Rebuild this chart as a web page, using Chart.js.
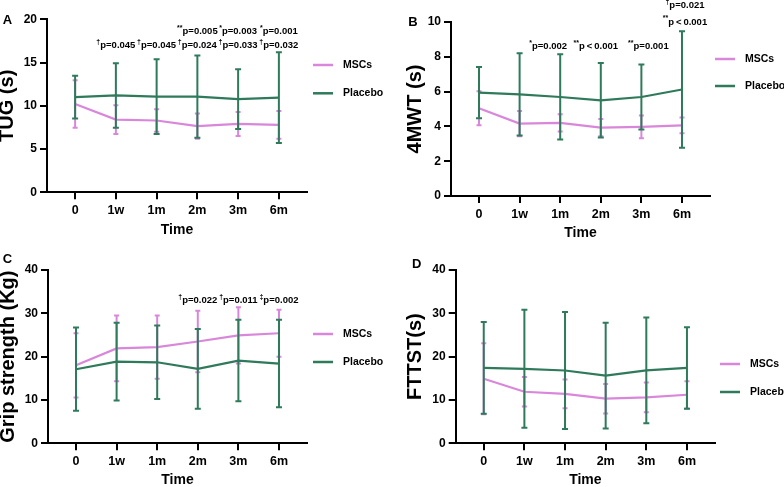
<!DOCTYPE html>
<html>
<head>
<meta charset="utf-8">
<script src="https://cdn.jsdelivr.net/npm/chart.js@4.4.1/dist/chart.umd.min.js"></script>
<style>
    body { margin: 0; background: #fff; }
    #painel { position: relative; width: 784px; height: 487px; }
    .quadro { position: absolute; }
</style>
</head>
<body>
<div id="painel">
    <div class="quadro" style="left:0;top:0;width:392px;height:243px"><canvas id="graficoA"></canvas></div>
    <div class="quadro" style="left:392px;top:0;width:392px;height:243px"><canvas id="graficoB"></canvas></div>
    <div class="quadro" style="left:0;top:243px;width:392px;height:244px"><canvas id="graficoC"></canvas></div>
    <div class="quadro" style="left:392px;top:243px;width:392px;height:244px"><canvas id="graficoD"></canvas></div>
</div>
<script>
var tempos = ['0', '1w', '1m', '2m', '3m', '6m'];

// A - TUG (s)
var tugMSCs = [10.2, 8.4, 8.3, 7.65, 7.9, 7.8];
var tugMSCsDP = [2.75, 1.65, 1.3, 1.46, 1.38, 1.6];
var tugPlacebo = [11.0, 11.2, 11.05, 11.07, 10.77, 10.95];
var tugPlaceboDP = [2.48, 3.73, 4.32, 4.75, 3.46, 5.25];

// B - 4MWT (s)
var mwtMSCs = [5.04, 4.16, 4.2, 3.93, 3.97, 4.06];
var mwtMSCsDP = [0.98, 0.73, 0.5, 0.5, 0.65, 0.45];
var mwtPlacebo = [5.94, 5.84, 5.69, 5.5, 5.69, 6.12];
var mwtPlaceboDP = [1.47, 2.37, 2.45, 2.14, 1.87, 3.35];

// C - Grip strength (Kg)
var forcaMSCs = [18.0, 21.9, 22.2, 23.5, 24.9, 25.4];
var forcaMSCsDP = [7.4, 7.6, 7.3, 7.1, 6.5, 5.4];
var forcaPlacebo = [17.1, 18.85, 18.7, 17.2, 19.1, 18.4];
var forcaPlaceboDP = [9.6, 9.0, 8.5, 9.2, 9.4, 10.1];

// D - FTTST(s)
var fttstMSCs = [14.9, 11.9, 11.4, 10.3, 10.6, 11.2];
var fttstMSCsDP = [8.2, 3.4, 3.3, 3.4, 3.45, 3.15];
var fttstPlacebo = [17.4, 17.2, 16.8, 15.6, 16.85, 17.4];
var fttstPlaceboDP = [10.6, 13.6, 13.5, 12.2, 12.2, 9.4];

// p-values (indice do tempo, nivel y, marca, texto)
var notasA = [
    { i: 3, y: 18.55, sup: '**', txt: 'p=0.005' },
    { i: 4, y: 18.55, sup: '*', txt: 'p=0.003' },
    { i: 5, y: 18.55, sup: '*', txt: 'p=0.001' },
    { i: 1, y: 16.95, sup: '\u2020', txt: 'p=0.045' },
    { i: 2, y: 16.95, sup: '\u2020', txt: 'p=0.045' },
    { i: 3, y: 16.95, sup: '\u2020', txt: 'p=0.024' },
    { i: 4, y: 16.95, sup: '\u2020', txt: 'p=0.033' },
    { i: 5, y: 16.95, sup: '\u2020', txt: 'p=0.032' }
];
var notasB = [
    { i: 2, y: 8.58, sup: '*', txt: 'p=0.002', dx: -12 },
    { i: 3, y: 8.58, sup: '**', txt: 'p\u2009<\u20090.001', dx: -5 },
    { i: 4, y: 8.58, sup: '**', txt: 'p=0.001', dx: 7 },
    { i: 5, y: 10.94, sup: '\u2020', txt: 'p=0.021', dx: 3 },
    { i: 5, y: 10.0, sup: '**', txt: 'p\u2009<\u20090.001', dx: 3 }
];
var notasC = [
    { i: 3, y: 32.9, sup: '\u2020', txt: 'p=0.022' },
    { i: 4, y: 32.9, sup: '\u2020', txt: 'p=0.011' },
    { i: 5, y: 32.9, sup: '\u2021', txt: 'p=0.002' }
];
var notasD = [];

var corMSCs = '#d987da';
var corPlacebo = '#2e7a5b';
var fonte = '"Liberation Sans", Arial, Helvetica, sans-serif';

// barras de erro (DP) desenhadas logo depois de cada serie
const barrasErro = {
    id: 'barrasErro',
    afterDatasetDraw(chart, args) {
        const ds = chart.data.datasets[args.index];
        if (!ds.erro) return;
        const ctx = chart.ctx;
        const xs = chart.scales.x;
        const ys = chart.scales.y;
        const c = ds.capa;
        ctx.save();
        ctx.strokeStyle = ds.borderColor;
        ctx.lineWidth = 2;
        ds.data.forEach((p, i) => {
            const x = xs.getPixelForValue(p.x);
            const y1 = ys.getPixelForValue(p.y + ds.erro[i]);
            const y2 = ys.getPixelForValue(p.y - ds.erro[i]);
            ctx.beginPath();
            ctx.moveTo(x, y1); ctx.lineTo(x, y2);
            ctx.moveTo(x - c, y1); ctx.lineTo(x + c, y1);
            ctx.moveTo(x - c, y2); ctx.lineTo(x + c, y2);
            ctx.stroke();
        });
        ctx.restore();
    }
};

// letra do painel, legenda e p-values
const textosPainel = {
    id: 'textosPainel',
    afterDraw(chart, args, opts) {
        const ctx = chart.ctx;
        const area = chart.chartArea;
        ctx.save();
        ctx.fillStyle = '#000';
        ctx.textBaseline = 'middle';

        ctx.font = 'bold 13px ' + fonte;
        ctx.textAlign = 'center';
        ctx.fillText(opts.letra, opts.letraX, opts.letraY);

        ctx.textAlign = 'left';
        chart.data.datasets.forEach((ds, k) => {
            const y = area.top + opts.legY + k * opts.legPasso;
            ctx.strokeStyle = ds.borderColor;
            ctx.lineWidth = 2.5;
            ctx.beginPath();
            ctx.moveTo(area.right + opts.legX, y);
            ctx.lineTo(area.right + opts.legX + 20, y);
            ctx.stroke();
            ctx.font = 'bold 10.5px ' + fonte;
            ctx.fillText(ds.label, area.right + opts.legX + 30, y);
        });

        const xs = chart.scales.x;
        const ys = chart.scales.y;
        opts.notas.forEach(n => {
            ctx.font = 'bold 7px ' + fonte;
            const ws = ctx.measureText(n.sup).width;
            ctx.font = 'bold 9.5px ' + fonte;
            const wt = ctx.measureText(n.txt).width;
            const x0 = xs.getPixelForValue(n.i) - (ws + wt) / 2 + (n.dx || 0);
            const y = ys.getPixelForValue(n.y);
            ctx.fillText(n.txt, x0 + ws, y);
            ctx.font = 'bold 7px ' + fonte;
            ctx.fillText(n.sup, x0, y - 3.5);
        });
        ctx.restore();
    }
};

const montarGrafico = function (id, cfg) {
    const serie = (vals) => vals.map((v, i) => ({ x: i, y: v }));
    const ctx = document.getElementById(id).getContext('2d');
    return new Chart(ctx, {
        type: 'line',
        data: {
            datasets: [{
                label: 'MSCs',
                data: serie(cfg.msc),
                erro: cfg.mscDP,
                capa: 2.5,
                borderColor: corMSCs,
                borderWidth: 2.2,
                pointRadius: 0,
                tension: 0,
                order: 2
            }, {
                label: 'Placebo',
                data: serie(cfg.placebo),
                erro: cfg.placeboDP,
                capa: 3,
                borderColor: corPlacebo,
                borderWidth: 2.2,
                pointRadius: 0,
                tension: 0,
                order: 1
            }]
        },
        options: {
            responsive: true,
            maintainAspectRatio: false,
            animation: false,
            devicePixelRatio: 1,
            layout: { padding: { left: 0, top: cfg.topo, right: cfg.direita, bottom: 0 } },
            plugins: {
                legend: { display: false },
                tooltip: { enabled: false },
                textosPainel: cfg.textos
            },
            scales: {
                x: {
                    type: 'linear',
                    min: -0.69,
                    max: 5.69,
                    afterBuildTicks: (s) => { s.ticks = tempos.map((t, i) => ({ value: i })); },
                    afterFit: (s) => { s.height = cfg.alturaX; },
                    ticks: {
                        callback: (v) => tempos[v],
                        color: '#000',
                        font: { family: fonte, size: 12.5, weight: 'bold' },
                        padding: 4,
                        maxRotation: 0
                    },
                    grid: { drawOnChartArea: false, drawTicks: true, tickLength: 7, color: '#000', lineWidth: 2 },
                    border: { display: true, color: '#000', width: 2 },
                    title: {
                        display: true,
                        text: 'Time',
                        color: '#000',
                        font: { family: fonte, size: 14, weight: 'bold', lineHeight: 1 },
                        padding: { top: 0, bottom: cfg.padTime }
                    }
                },
                y: {
                    min: 0,
                    max: cfg.maxY,
                    afterFit: (s) => { s.width = cfg.larguraY; },
                    ticks: {
                        stepSize: cfg.passoY,
                        color: '#000',
                        font: { family: fonte, size: 12, weight: 'bold' },
                        padding: 3
                    },
                    grid: { drawOnChartArea: false, drawTicks: true, tickLength: 7, color: '#000', lineWidth: 2 },
                    border: { display: true, color: '#000', width: 2 },
                    title: {
                        display: true,
                        text: cfg.tituloY,
                        color: '#000',
                        font: { family: fonte, size: 20, weight: 'bold', lineHeight: 1 },
                        padding: { top: cfg.padTituloY, bottom: 0 }
                    }
                }
            }
        },
        plugins: [barrasErro, textosPainel]
    });
};

montarGrafico('graficoA', {
    msc: tugMSCs, mscDP: tugMSCsDP, placebo: tugPlacebo, placeboDP: tugPlaceboDP,
    maxY: 20, passoY: 5, tituloY: 'TUG (s)',
    topo: 19.3, direita: 85, larguraY: 47, alturaX: 50.7, padTime: 6, padTituloY: -2.5,
    textos: { letra: 'A', letraX: 7.5, letraY: 20, legX: 6, legY: 45.7, legPasso: 28.3, notas: notasA }
});

montarGrafico('graficoB', {
    msc: mwtMSCs, mscDP: mwtMSCsDP, placebo: mwtPlacebo, placeboDP: mwtPlaceboDP,
    maxY: 10, passoY: 2, tituloY: '4MWT (s)',
    topo: 22, direita: 74, larguraY: 59, alturaX: 47, padTime: 3, padTituloY: 13.8,
    textos: { letra: 'B', letraX: 21, letraY: 22.5, legX: 5, legY: 37, legPasso: 27, notas: notasB }
});

montarGrafico('graficoC', {
    msc: forcaMSCs, mscDP: forcaMSCsDP, placebo: forcaPlacebo, placeboDP: forcaPlaceboDP,
    maxY: 40, passoY: 10, tituloY: 'Grip strength (Kg)',
    topo: 27, direita: 85, larguraY: 48, alturaX: 43.7, padTime: 0, padTituloY: -1.7,
    textos: { letra: 'C', letraX: 7.5, letraY: 16.5, legX: 6, legY: 64, legPasso: 28, notas: notasC }
});

montarGrafico('graficoD', {
    msc: fttstMSCs, mscDP: fttstMSCsDP, placebo: fttstPlacebo, placeboDP: fttstPlaceboDP,
    maxY: 40, passoY: 10, tituloY: 'FTTST(s)',
    topo: 27, direita: 69, larguraY: 63.7, alturaX: 43.7, padTime: 0, padTituloY: 13.8,
    textos: { letra: 'D', letraX: 24.7, letraY: 21, legX: 5, legY: 94, legPasso: 28, notas: notasD }
});
</script>
</body>
</html>
